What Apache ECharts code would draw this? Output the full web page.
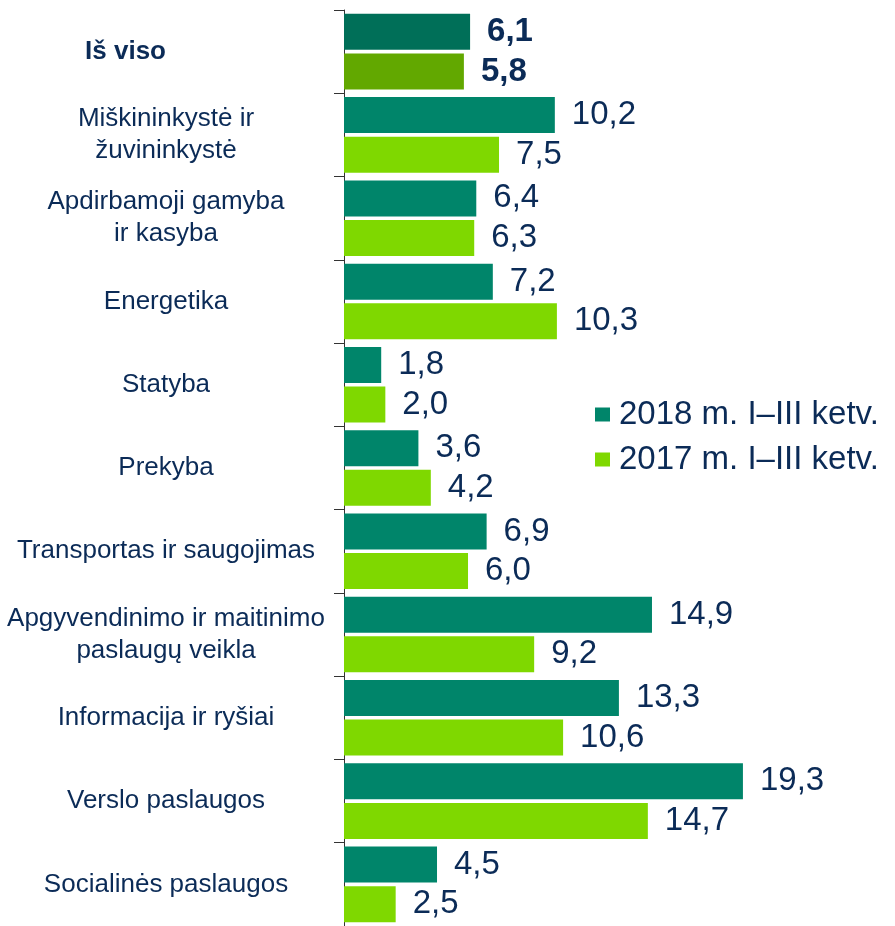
<!DOCTYPE html>
<html lang="lt">
<head>
    <meta charset="UTF-8">
    <title>Chart</title>
    <script type="text/javascript" src="https://cdn.jsdelivr.net/npm/echarts@6/dist/echarts.min.js"></script>
</head>
<body>
<div id="chart"></div>
</body>
<style>
    * {
        padding: 0;
        margin: 0;
    }

    html, body {
        width: 100%;
        height: 100%;
        background-color: white;
    }

    #chart {
        width: 895px;
        height: 926px;
    }
</style>
<script>

    const categories = [
        'Iš viso',
        'Miškininkystė ir\nžuvininkystė',
        'Apdirbamoji gamyba\nir kasyba',
        'Energetika',
        'Statyba',
        'Prekyba',
        'Transportas ir saugojimas',
        'Apgyvendinimo ir maitinimo\npaslaugų veikla',
        'Informacija ir ryšiai',
        'Verslo paslaugos',
        'Socialinės paslaugos'
    ]
    const seriesNames = ['2018 m. I–III ketv.', '2017 m. I–III ketv.']
    const values2018 = [6.1, 10.2, 6.4, 7.2, 1.8, 3.6, 6.9, 14.9, 13.3, 19.3, 4.5]
    const values2017 = [5.8, 7.5, 6.3, 10.3, 2.0, 4.2, 6.0, 9.2, 10.6, 14.7, 2.5]

    const textColor = '#0b2b57'
    const colors = ['#00856a', '#7fd800']
    const totalColors = ['#006f58', '#62a800']
    const font = 'Liberation Sans, Arial, sans-serif'

    const fmt = function (v) {
        return v.toFixed(1).replace('.', ',')
    }

    const makeData = function (values, idx) {
        return values.map((v, i) => {
            if (i === 0) {
                return {
                    value: v,
                    itemStyle: {color: totalColors[idx]},
                    label: {fontWeight: 'bold'}
                }
            }
            return v
        })
    }

    const makeSeries = function (values, idx) {
        return {
            name: seriesNames[idx],
            type: 'bar',
            data: makeData(values, idx),
            barWidth: 36,
            barGap: '10%',
            itemStyle: {color: colors[idx]},
            label: {
                show: true,
                position: 'right',
                distance: 17,
                color: textColor,
                fontSize: 33,
                fontFamily: font,
                formatter: (p) => fmt(p.value)
            }
        }
    }

    let chart = echarts.init(document.getElementById('chart'))
    chart.setOption({
        animation: false,
        grid: {
            left: 344,
            top: 10,
            width: 413.4,
            height: 920
        },
        legend: {
            orient: 'vertical',
            left: 595,
            top: 398,
            padding: 0,
            itemWidth: 15,
            itemHeight: 14,
            itemGap: 12,
            icon: 'rect',
            textStyle: {
                color: textColor,
                fontSize: 33,
                fontFamily: font,
                padding: [0, 0, 0, 4]
            },
            data: seriesNames
        },
        xAxis: {
            type: 'value',
            min: 0,
            max: 20,
            show: false
        },
        yAxis: {
            type: 'category',
            inverse: true,
            data: categories.map((c, i) => i === 0 ? {value: c, textStyle: {fontWeight: 'bold'}} : c),
            axisLine: {show: true, lineStyle: {color: '#333333', width: 1}},
            axisTick: {show: true, inside: false, length: 10, lineStyle: {color: '#333333', width: 1}},
            axisLabel: {
                color: textColor,
                fontSize: 26,
                lineHeight: 32,
                align: 'center',
                margin: 178,
                padding: [8, 0, 0, 0],
                fontFamily: font
            }
        },
        series: [
            makeSeries(values2018, 0),
            makeSeries(values2017, 1)
        ]
    })

</script>
</html>
